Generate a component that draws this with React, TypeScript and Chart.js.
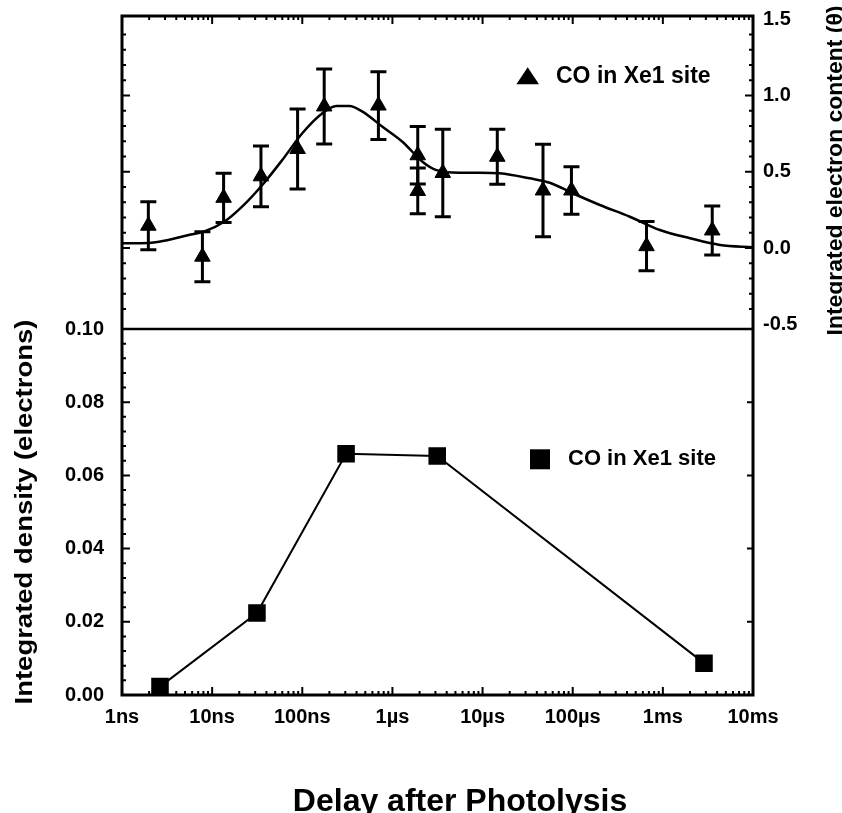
import React, { useEffect, useRef } from "react";
import { Chart, registerables } from "chart.js";
Chart.register(...registerables);

// ---- data (delays in ns) ----
const xTickValues = [1, 10, 100, 1e3, 1e4, 1e5, 1e6, 1e7];
const xTickLabels = ["1ns", "10ns", "100ns", "1\u00b5s", "10\u00b5s", "100\u00b5s", "1ms", "10ms"];
const leftTicks = [0, 0.02, 0.04, 0.06, 0.08, 0.1];
const rightTicks = [-0.5, 0, 0.5, 1.0, 1.5];

const triDelay = [1.96, 7.8, 13.4, 34.8, 88.7, 175, 699, 1910, 1910, 3620, 14560, 46800, 96800, 659000, 3530000];
const triValue = [0.146, -0.057, 0.329, 0.47, 0.649, 0.928, 0.934, 0.608, 0.374, 0.492, 0.598, 0.377, 0.377, 0.012, 0.115];
const triError = [0.158, 0.164, 0.161, 0.199, 0.262, 0.246, 0.222, 0.188, 0.15, 0.287, 0.18, 0.303, 0.156, 0.161, 0.161];

const fitDelay = [1, 2, 2.58, 5.5, 8.1, 13.6, 21.5, 36, 60, 100, 167, 239, 333, 465, 775, 1290, 2150, 3080, 5550, 9270, 15450, 33300, 55500, 1e5, 2e5, 4.3e5, 9.27e5, 2e6, 4.3e6, 1e7];
const fitValue = [0.031, 0.033, 0.041, 0.085, 0.107, 0.172, 0.271, 0.413, 0.577, 0.752, 0.883, 0.931, 0.931, 0.894, 0.795, 0.697, 0.566, 0.511, 0.494, 0.494, 0.49, 0.457, 0.428, 0.359, 0.282, 0.205, 0.118, 0.064, 0.02, 0.005];

const sqDelay = [2.64, 31.4, 306, 3140, 2.86e6];
const sqValue = [0.0023, 0.0224, 0.0659, 0.0653, 0.0087];

const legendLabel = "CO in Xe1 site";
const xTitle = "Delay after Photolysis";
const leftTitle = "Integrated density (electrons)";
const rightTitle = "Integrated electron content (\u03b8)";

const FONT = "'Liberation Sans', Arial, Helvetica, sans-serif";

const noPad = (s: any) => {
  s.paddingTop = 0;
  s.paddingBottom = 0;
  s.paddingLeft = 0;
  s.paddingRight = 0;
};

const errorBarPlugin = {
  id: "errorBars",
  beforeDatasetsDraw(chart: any) {
    const { ctx } = chart;
    const x = chart.scales.x;
    const y = chart.scales.yR;
    ctx.save();
    ctx.strokeStyle = "#000";
    ctx.lineWidth = 3;
    triDelay.forEach((d, i) => {
      const px = x.getPixelForValue(d);
      const top = y.getPixelForValue(triValue[i] + triError[i]);
      const bot = y.getPixelForValue(triValue[i] - triError[i]);
      ctx.beginPath();
      ctx.moveTo(px, top);
      ctx.lineTo(px, bot);
      ctx.moveTo(px - 8, top);
      ctx.lineTo(px + 8, top);
      ctx.moveTo(px - 8, bot);
      ctx.lineTo(px + 8, bot);
      ctx.stroke();
    });
    ctx.restore();
  },
};

function stretchedRotatedText(ctx: any, text: string, cx: number, baseX: number, length: number) {
  const w = ctx.measureText(text).width;
  ctx.save();
  ctx.translate(baseX, cx);
  ctx.rotate(-Math.PI / 2);
  ctx.scale(length / w, 1);
  ctx.fillText(text, 0, 0);
  ctx.restore();
}

const framePlugin = {
  id: "frame",
  afterDraw(chart: any) {
    const { ctx, chartArea: a } = chart;
    const x = chart.scales.x;
    const yL = chart.scales.yL;
    const yR = chart.scales.yR;
    ctx.save();
    ctx.strokeStyle = "#000";
    ctx.fillStyle = "#000";
    // ticks
    ctx.lineWidth = 2;
    ctx.beginPath();
    const divY = yL.getPixelForValue(0.1);
    for (let e = 0; e < 7; e++) {
      for (let k = 1; k <= 9; k++) {
        const v = k * Math.pow(10, e);
        const px = x.getPixelForValue(v);
        const len = k === 1 ? 8 : 4;
        ctx.moveTo(px, a.bottom);
        ctx.lineTo(px, a.bottom - len);
        ctx.moveTo(px, a.top);
        ctx.lineTo(px, a.top + len);
      }
    }
    for (let i = 1; i < 20; i++) {
      const v = -0.5 + i * 0.1;
      const py = yR.getPixelForValue(v);
      const major = i % 5 === 0;
      const len = major ? 8 : 4;
      ctx.moveTo(a.left, py);
      ctx.lineTo(a.left + len, py);
      ctx.moveTo(a.right, py);
      ctx.lineTo(a.right - len, py);
    }
    for (let i = 1; i < 25; i++) {
      const v = i * 0.004;
      const py = yL.getPixelForValue(v);
      const major = i % 5 === 0;
      ctx.moveTo(a.left, py);
      ctx.lineTo(a.left + (major ? 8 : 4), py);
      if (major) {
        ctx.moveTo(a.right, py);
        ctx.lineTo(a.right - 6, py);
      }
    }
    ctx.stroke();
    // frame
    ctx.lineWidth = 3;
    ctx.strokeRect(a.left, a.top, a.right - a.left, a.bottom - a.top);
    ctx.lineWidth = 2.5;
    ctx.beginPath();
    ctx.moveTo(a.left, divY);
    ctx.lineTo(a.right, divY);
    ctx.stroke();

    // legends
    const topMid = yR.getPixelForValue(1.5) + 57;
    ctx.beginPath();
    ctx.moveTo(527.7, topMid - 9);
    ctx.lineTo(539, topMid + 8);
    ctx.lineTo(516.4, topMid + 8);
    ctx.closePath();
    ctx.fill();
    ctx.font = `bold 23px ${FONT}`;
    ctx.textBaseline = "middle";
    ctx.textAlign = "left";
    ctx.fillText(legendLabel, 556, topMid);
    const botMid = yL.getPixelForValue(0.0644);
    ctx.fillRect(530, botMid - 10, 20, 20);
    ctx.font = `bold 22px ${FONT}`;
    ctx.fillText(legendLabel, 568, botMid);

    // titles
    ctx.textAlign = "center";
    ctx.textBaseline = "alphabetic";
    ctx.font = `bold 23px ${FONT}`;
    stretchedRotatedText(ctx, leftTitle, (yL.top + yL.bottom) / 2, 31.7, 385);
    ctx.font = `bold 22px ${FONT}`;
    stretchedRotatedText(ctx, rightTitle, (yR.top + yR.bottom) / 2 - 2, 841.5, 330);
    ctx.font = `bold 32px ${FONT}`;
    ctx.fillText(xTitle, 460, 811);
    ctx.restore();
  },
};

export default function App() {
  const ref = useRef<HTMLCanvasElement>(null);
  useEffect(() => {
    document.body.style.margin = "0";
    document.body.style.overflow = "hidden";
    const canvas = ref.current!;
    const tickFont = { family: FONT, size: 20, weight: "bold" as const };
    const chart = new Chart(canvas, {
      type: "line",
      data: {
        datasets: [
          {
            label: "fit",
            data: fitDelay.map((d, i) => ({ x: d, y: fitValue[i] })),
            yAxisID: "yR",
            borderColor: "#000",
            borderWidth: 2.5,
            pointRadius: 0,
            cubicInterpolationMode: "monotone",
            fill: false,
          },
          {
            label: legendLabel,
            data: triDelay.map((d, i) => ({ x: d, y: triValue[i] })),
            yAxisID: "yR",
            showLine: false,
            pointStyle: "triangle",
            pointRadius: 9,
            backgroundColor: "#000",
            borderColor: "#000",
            borderWidth: 1,
          },
          {
            label: legendLabel,
            data: sqDelay.map((d, i) => ({ x: d, y: sqValue[i] })),
            yAxisID: "yL",
            borderColor: "#000",
            borderWidth: 2,
            pointStyle: "rect",
            pointRadius: 11,
            backgroundColor: "#000",
            tension: 0,
            fill: false,
          },
        ],
      },
      options: {
        animation: false,
        responsive: false,
        layout: { padding: { top: 16, left: 0, right: 0, bottom: 0 } },
        plugins: { legend: { display: false }, tooltip: { enabled: false } },
        scales: {
          x: {
            type: "logarithmic",
            position: "bottom",
            min: 1,
            max: 1e7,
            grid: { display: false, drawTicks: false },
            border: { display: false },
            afterBuildTicks: (s: any) => {
              s.ticks = xTickValues.map((v) => ({ value: v, major: true }));
            },
            afterFit: (s: any) => {
              s.height = 118;
              noPad(s);
            },
            ticks: {
              callback: (_v: any, i: number) => xTickLabels[i],
              font: tickFont,
              color: "#000",
              padding: 10,
              maxRotation: 0,
              autoSkip: false,
            },
          },
          yL: {
            type: "linear",
            position: "left",
            stack: "left",
            stackWeight: 366,
            min: 0,
            max: 0.1,
            grid: { display: false, drawTicks: false },
            border: { display: false },
            afterBuildTicks: (s: any) => {
              s.ticks = leftTicks.map((v) => ({ value: v }));
            },
            afterFit: (s: any) => {
              s.width = 122;
              noPad(s);
            },
            ticks: {
              callback: (v: any) => Number(v).toFixed(2),
              font: tickFont,
              color: "#000",
              padding: 18,
            },
          },
          yLtop: {
            type: "linear",
            position: "left",
            stack: "left",
            stackWeight: 313,
            min: 0,
            max: 1,
            grid: { display: false, drawTicks: false },
            border: { display: false },
            ticks: { display: false },
            afterFit: (s: any) => {
              s.width = 122;
              noPad(s);
            },
          },
          yR: {
            type: "linear",
            position: "right",
            stack: "right",
            stackWeight: 313,
            min: -0.531,
            max: 1.521,
            grid: { display: false, drawTicks: false },
            border: { display: false },
            afterBuildTicks: (s: any) => {
              s.ticks = rightTicks.map((v) => ({ value: v }));
            },
            afterFit: (s: any) => {
              s.width = 89;
              noPad(s);
            },
            ticks: {
              callback: (v: any) => Number(v).toFixed(1),
              font: tickFont,
              color: "#000",
              padding: 10,
            },
          },
          yRbot: {
            type: "linear",
            position: "right",
            stack: "right",
            stackWeight: 366,
            min: 0,
            max: 1,
            grid: { display: false, drawTicks: false },
            border: { display: false },
            ticks: { display: false },
            afterFit: (s: any) => {
              s.width = 89;
              noPad(s);
            },
          },
        },
      } as any,
      plugins: [errorBarPlugin, framePlugin],
    });
    return () => chart.destroy();
  }, []);
  return (
    <div style={{ width: 842, height: 813 }}>
      <canvas ref={ref} width={842} height={813} style={{ display: "block" }} />
    </div>
  );
}
